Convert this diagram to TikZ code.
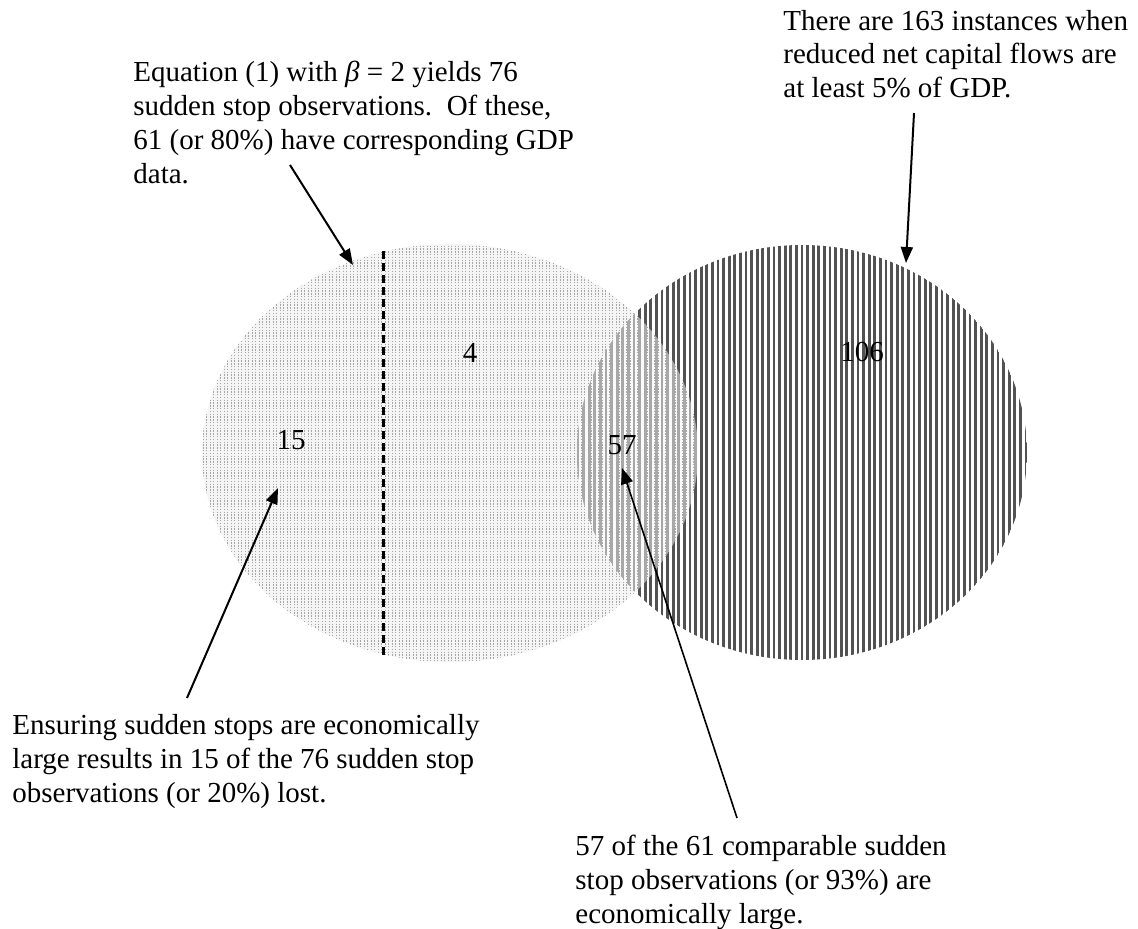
\documentclass[tikz,border=0pt]{standalone}
\usepackage{fontspec}
\setmainfont{Liberation Serif}
\usetikzlibrary{arrows.meta}
\tikzset{
  txt/.style={anchor=base west, inner sep=0pt, font=\fontsize{14.5}{16.85}\selectfont},
  num/.style={inner sep=0pt, font=\fontsize{14.5}{16.85}\selectfont},
  ptr/.style={line width=1pt, -{Triangle[length=8pt,width=6pt]}},
  rstripe/.style={line width=1.4pt, black!68},
  lstipple/.style={line width=0.5pt, gray!70, dash pattern=on 0.7pt off 0.7pt},
  divider/.style={line width=1.5pt, dash pattern=on 4pt off 2pt},
}
\begin{document}
\begin{tikzpicture}[x=0.5pt,y=-0.5pt]
\useasboundingbox (0,0) rectangle (1138,929);

% left ellipse base fill
\fill[gray!8] (450,453) ellipse [x radius=124pt, y radius=104.5pt];
% right ellipse stripes
\begin{scope}
  \clip (802,452.5) ellipse [x radius=112.5pt, y radius=103.75pt];
  \foreach \x in {578,583.6,...,1030} \draw[rstripe] (\x,240) -- (\x,665);
\end{scope}
% overlap wash
\begin{scope}
  \clip (802,452.5) ellipse [x radius=112.5pt, y radius=103.75pt];
  \fill[white, opacity=0.5] (450,453) ellipse [x radius=124pt, y radius=104.5pt];
\end{scope}
% left ellipse stipple
\begin{scope}
  \clip (450,453) ellipse [x radius=124pt, y radius=104.5pt];
  \foreach \x in {203,206.5,...,700} \draw[lstipple] (\x,240) -- (\x,665);
\end{scope}

% dashed divider
\coordinate (dtop) at (383,251);
\coordinate (dbot) at (383,655);
\draw[divider] (dtop) -- (dbot);

% region numbers
\node[num] (n15) at (291,440) {15};
\node[num] (n4) at (470,353) {4};
\node[num] (n57) at (622,445) {57};
\node[num] (n106) at (862,352) {106};

% text blocks
\node[txt] (tl1) at (133,82) {Equation (1) with \textit{β} = 2 yields 76};
\node[txt] (tl2) at (133,116) {sudden stop observations.\ \ Of these,};
\node[txt] (tl3) at (133,150) {61 (or 80\%) have corresponding GDP};
\node[txt] (tl4) at (133,184) {data.};

\node[txt] (tr1) at (783,30.5) {There are 163 instances when};
\node[txt] (tr2) at (783,64) {reduced net capital flows are};
\node[txt] (tr3) at (783,97.5) {at least 5\% of GDP.};

\node[txt] (bl1) at (12,734) {Ensuring sudden stops are economically};
\node[txt] (bl2) at (12,768) {large results in 15 of the 76 sudden stop};
\node[txt] (bl3) at (12,802) {observations (or 20\%) lost.};

\node[txt] (br1) at (575,855) {57 of the 61 comparable sudden};
\node[txt] (br2) at (575,889) {stop observations (or 93\%) are};
\node[txt] (br3) at (575,923) {economically large.};

% arrows
\coordinate (a1s) at (290,165);
\coordinate (a1e) at (353,265);
\coordinate (a2s) at (914,113);
\coordinate (a2e) at (906,263);
\coordinate (a3s) at (187,698);
\coordinate (a3e) at (278,488);
\coordinate (a4s) at (737,818);
\coordinate (a4e) at (622,468);
\draw[ptr] (a1s) -- (a1e);
\draw[ptr] (a2s) -- (a2e);
\draw[ptr] (a3s) -- (a3e);
\draw[ptr, line width=0.8pt] (a4s) -- (a4e);
\end{tikzpicture}
\end{document}
